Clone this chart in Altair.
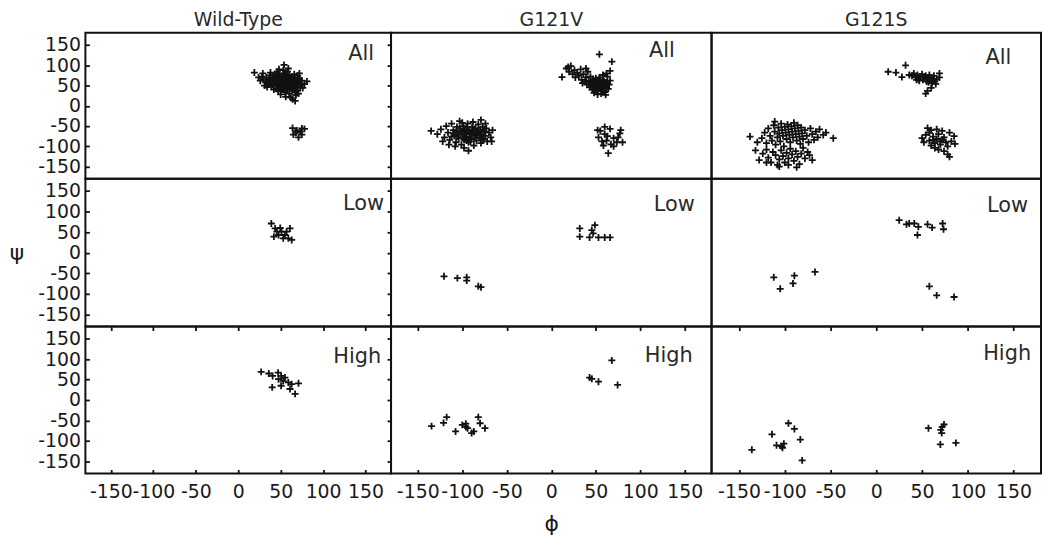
import altair as alt
import pandas as pd

VARIANTS = ["Wild-Type", "G121V", "G121S"]
LEVELS = ["All", "Low", "High"]
TICKS = [-150, -100, -50, 0, 50, 100, 150]

# (phi, psi) pairs
WT_ALL = [
    (19, 82), (54, 101), (72, 80), (81, 60), (67, 12),
    (28, 72), (30, 65), (32, 58), (33, 70), (35, 62), (36, 54), (37, 75), (38, 66), (39, 48), (40, 60),
    (41, 70), (42, 55), (43, 78), (44, 64), (45, 50), (45, 42), (46, 68), (47, 58), (48, 74), (48, 46),
    (49, 62), (50, 54), (50, 38), (51, 70), (52, 60), (52, 48), (53, 80), (54, 66), (54, 56), (55, 44),
    (55, 34), (56, 72), (57, 62), (57, 52), (58, 40), (58, 68), (59, 58), (60, 48), (60, 30), (61, 64),
    (62, 54), (62, 42), (63, 72), (64, 60), (64, 36), (65, 50), (66, 66), (66, 44), (67, 56), (68, 26),
    (68, 62), (69, 48), (70, 38), (71, 58), (72, 68), (73, 44), (74, 52), (75, 62), (62, 20), (64, 16),
    (34, 46), (38, 82), (46, 84), (58, 84), (66, 78), (70, 74), (76, 44), (78, 54), (42, 40), (50, 28),
    (56, 22), (60, 76), (47, 36), (53, 88), (44, 72), (36, 60), (31, 50), (26, 62), (24, 70), (29, 80),
    (67, 34), (71, 30), (59, 92), (48, 90),
    (43, 58), (46, 52), (49, 66), (51, 58), (53, 50), (55, 62), (57, 68), (59, 54), (61, 60), (63, 50),
    (65, 58), (67, 64), (58, 46), (54, 40), (50, 50), (47, 72), (44, 60), (41, 64), (62, 66), (60, 62),
    (56, 48), (52, 64), (48, 56), (45, 64), (65, 44), (69, 54), (70, 64), (63, 56), (57, 56), (53, 72),
    (49, 46), (46, 78), (55, 78), (61, 70), (66, 50), (40, 52), (38, 58), (51, 44), (59, 64), (64, 68),
    (64, -55), (69, -61), (75, -56), (78, -57), (65, -71), (71, -78), (75, -71), (73, -64), (68, -66),
]
WT_LOW = [
    (39, 71), (43.5, 59), (49.5, 60), (51, 51), (55, 43), (59, 35), (63, 31), (61, 59), (47.5, 43),
    (42, 39), (53, 35), (57, 51), (45.5, 51),
]
WT_HIGH = [
    (27, 69), (36, 65), (40.5, 59), (47, 67), (50.5, 59), (47.5, 51), (53, 47), (59, 43), (63, 39),
    (71, 41), (67, 15), (40, 31), (61, 27), (50.5, 35), (55, 55),
]
V_ALL = [
    (54, 127), (68, 109), (12, 71), (19, 96), (61, 27), (66, 86),
    (17, 92), (20, 84), (22, 98), (24, 78), (26, 88), (27, 70), (29, 82), (31, 74), (33, 90), (34, 64),
    (36, 78), (38, 60), (39, 70), (40, 52), (41, 84), (42, 62), (43, 46), (44, 72), (45, 56), (46, 40),
    (47, 66), (48, 50), (49, 58), (50, 44), (51, 62), (52, 36), (53, 54), (54, 70), (55, 48), (56, 58),
    (57, 40), (58, 64), (59, 52), (60, 34), (61, 46), (62, 58), (63, 72), (64, 42), (65, 52), (66, 62),
    (48, 32), (52, 28), (56, 30), (44, 52), (50, 68), (58, 76), (62, 80), (46, 60), (54, 44), (60, 56),
    (39, 92), (35, 56), (57, 50), (53, 60), (49, 40),
    (47, 54), (49, 48), (51, 56), (53, 48), (55, 54), (57, 46), (59, 60), (61, 52), (50, 60), (52, 50),
    (54, 58), (56, 42), (58, 54), (60, 48), (62, 44), (48, 44), (55, 64), (57, 36), (46, 48), (63, 56),
    (-135, -62), (-93, -111), (-79, -35), (-128, -70), (-124, -58), (-120, -78), (-118, -50), (-116, -66),
    (-114, -84), (-112, -44), (-110, -60), (-109, -74), (-107, -90), (-106, -52), (-105, -68), (-104, -80),
    (-103, -38), (-102, -62), (-101, -96), (-100, -72), (-99, -50), (-98, -84), (-97, -58), (-96, -66),
    (-95, -76), (-94, -44), (-93, -90), (-92, -60), (-91, -70), (-90, -82), (-89, -52), (-88, -64),
    (-87, -98), (-86, -74), (-85, -56), (-84, -86), (-83, -66), (-82, -46), (-81, -78), (-80, -60),
    (-79, -92), (-78, -70), (-77, -52), (-76, -82), (-75, -64), (-74, -74), (-73, -56), (-72, -88),
    (-70, -66), (-68, -78), (-66, -60), (-67, -88), (-108, -100), (-98, -104), (-115, -96), (-122, -88),
    (-100, -42), (-88, -40), (-74, -44), (-95, -86),
    (-110, -68), (-105, -76), (-100, -64), (-97, -70), (-94, -62), (-92, -78), (-89, -68), (-87, -58),
    (-84, -70), (-82, -62), (-103, -56), (-99, -80), (-95, -54), (-91, -88), (-86, -80), (-80, -72),
    (-112, -76), (-107, -64), (-78, -84), (-76, -58),
    (55, -62), (66, -57), (77, -68), (53, -78), (62, -86), (73.5, -90), (80, -90), (58.5, -98), (64, -117),
    (60, -70), (70, -80), (57, -88), (67, -95), (75, -78), (52, -60), (63, -75), (78, -60), (60, -52), (70, -100),
]
V_LOW = [
    (32, 59), (32, 39), (49, 67), (45.5, 55), (47, 47), (43, 37), (53, 37), (60, 37), (66, 37),
    (-120.5, -57.5), (-105.5, -62), (-95, -60), (-95, -68), (-82, -82), (-79, -84),
]
V_HIGH = [
    (68, 97), (43, 55), (45.5, 52), (53, 45), (74.5, 37),
    (-134.5, -64), (-121, -56), (-117.5, -42), (-107.5, -77), (-100, -61), (-96, -58), (-94, -69),
    (-89.5, -81), (-87, -77), (-82, -42), (-80, -57), (-74.5, -69), (-96, -66),
]
S_ALL = [
    (13, 84), (21.5, 82), (32, 100), (28, 71), (69, 80), (69, 70), (56, 37), (60, 44), (54, 30),
    (39, 74), (41, 80), (43, 70), (45, 76), (46, 66), (48, 72), (50, 78), (51, 64), (52, 70), (54, 74),
    (55, 60), (56, 68), (58, 76), (59, 62), (60, 70), (61, 56), (62, 66), (63, 74), (64, 60), (65, 54),
    (47, 62), (57, 58), (44, 64), (36, 76), (66, 66),
    (-138, -76), (-47, -80), (-111, -39), (-87, -152), (-128, -134), (-70, -134),
    (-125, -80), (-122, -66), (-120, -92), (-118, -56), (-116, -74), (-114, -86), (-112, -48), (-111, -64),
    (-110, -96), (-108, -78), (-107, -54), (-106, -68), (-105, -88), (-104, -44), (-103, -60), (-102, -74),
    (-101, -100), (-100, -52), (-99, -66), (-98, -82), (-97, -46), (-96, -58), (-95, -72), (-94, -90),
    (-93, -50), (-92, -64), (-91, -78), (-90, -42), (-89, -56), (-88, -70), (-87, -86), (-86, -48),
    (-85, -62), (-84, -76), (-83, -94), (-82, -54), (-81, -68), (-80, -82), (-78, -60), (-76, -74),
    (-74, -90), (-72, -56), (-70, -70), (-68, -84), (-66, -64), (-64, -78), (-62, -58), (-58, -72),
    (-55, -66), (-130, -90),
    (-124, -118), (-120, -108), (-118, -128), (-115, -140), (-113, -114), (-110, -122), (-108, -146),
    (-106, -132), (-104, -110), (-102, -124), (-100, -140), (-98, -116), (-96, -130), (-94, -106),
    (-92, -120), (-90, -136), (-88, -112), (-86, -126), (-84, -144), (-82, -118), (-80, -104),
    (-78, -130), (-75, -114), (-73, -122), (-120, -140), (-132, -110), (-106, -150), (-96, -146),
    (56, -55), (60, -60), (66, -58), (72, -62), (80, -66), (85, -75), (50, -80), (54, -72), (58, -86),
    (62, -76), (64, -92), (66, -82), (68, -70), (70, -96), (72, -84), (74, -78), (76, -90), (78, -100),
    (82, -88), (60, -98), (64, -104), (68, -108), (74, -112), (78, -120), (80, -126), (86, -94),
    (52, -90), (58, -66), (70, -88), (62, -84),
]
S_LOW = [
    (25, 79), (33, 69), (36, 71), (41.5, 71), (46, 63), (45, 43), (56, 69), (61, 61), (72.5, 71), (73.5, 57),
    (-112, -60), (-105, -88), (-89.5, -56), (-91, -75), (-67, -47),
    (58, -82), (66, -104), (85, -108),
]
S_HIGH = [
    (-96, -57), (-89.5, -71), (-114, -84), (-83, -97), (-109, -111), (-104, -113), (-101, -107),
    (-102.5, -117), (-136, -122), (-81, -148),
    (57, -69), (74, -60), (70.5, -73), (71.5, -81), (70, -109), (87, -105), (72, -66),
]

POINTS = [
    [WT_ALL, V_ALL, S_ALL],
    [WT_LOW, V_LOW, S_LOW],
    [WT_HIGH, V_HIGH, S_HIGH],
]

COL_W = [308, 323, 332]
ROW_H = [147, 149, 148]
# (gap from right edge, baseline from top) for the "All/Low/High" labels
LABEL_POS = [
    [(17, 27), (37, 24), (30, 31)],
    [(7, 32), (17, 33), (13, 34)],
    [(10, 37), (19, 36), (10, 34)],
]

FONT = "DejaVu Sans"
INK = "#111111"
PLUS = "M-1,0L1,0M0,-1L0,1"
LBL = "'' + datum.value"


def scale():
    return alt.Scale(domain=[-180, 180], nice=False, zero=False)


def tick_axis(orient, labels, title=None, **kw):
    return alt.Axis(
        orient=orient, values=TICKS, labels=labels, labelExpr=LBL, offset=-4, tickSize=4,
        domain=False, grid=False, labelOverlap=False, labelFlush=False, title=title, **kw
    )


charts = []
for ri, lv in enumerate(LEVELS):
    for ci, v in enumerate(VARIANTS):
        df = pd.DataFrame(POINTS[ri][ci], columns=["phi", "psi"])
        w, h = COL_W[ci], ROW_H[ri]
        if ri == 2:
            xa = tick_axis("bottom", True, "ϕ" if ci == 1 else None,
                           labelPadding=9, titlePadding=12, titleFontSize=22)
        else:
            xa = None
        if ci == 0:
            if ri == 1:
                ya = tick_axis("left", True, "ψ", labelPadding=5, titlePadding=14,
                               titleFontSize=22, titleAngle=0, titleAlign="right",
                               titleBaseline="middle")
            else:
                ya = tick_axis("left", True, None, labelPadding=5)
        else:
            ya = None
        pts = alt.Chart(df).mark_point(
            shape=PLUS, size=49, filled=False, strokeWidth=1.8, color=INK, opacity=1
        ).encode(
            x=alt.X("phi:Q", scale=scale(), axis=xa),
            y=alt.Y("psi:Q", scale=scale(), axis=ya),
        )
        gap, base = LABEL_POS[ri][ci]
        lab = alt.Chart(pd.DataFrame({"t": [lv]})).mark_text(
            align="right", baseline="alphabetic", font=FONT, fontSize=21, color="#2a2a2a"
        ).encode(x=alt.value(w - gap), y=alt.value(base), text="t:N")
        layers = [pts, lab]
        if ci == 0 or ri == 2:
            xa2 = tick_axis("top", False) if ri == 2 else None
            ya2 = tick_axis("right", False) if ci == 0 else None
            ghost = alt.Chart(df).mark_point(opacity=0, size=1).encode(
                x=alt.X("phi:Q", scale=scale(), axis=xa2),
                y=alt.Y("psi:Q", scale=scale(), axis=ya2),
            )
            layers.append(ghost)
        ch = alt.layer(*layers).resolve_axis(x="independent", y="independent").properties(
            width=w, height=h
        )
        if ri == 0:
            ch = ch.properties(title=alt.TitleParams(
                v, font=FONT, fontSize=19, fontWeight="normal", color="#2a2a2a", offset=3, anchor="middle"
            ))
        charts.append(ch)

chart = alt.concat(*charts, columns=3, spacing=0, bounds="flush").properties(
    padding=0, background="white"
).configure_view(
    stroke="#111", strokeWidth=2
).configure_axis(
    labelFont=FONT, labelFontSize=19, labelColor="#1a1a1a", tickColor="#111", tickWidth=1.8,
    titleFont=FONT, titleFontWeight="normal", titleColor="#1a1a1a"
)

chart.save("out.html", embed_options={"renderer": "svg", "actions": False})
